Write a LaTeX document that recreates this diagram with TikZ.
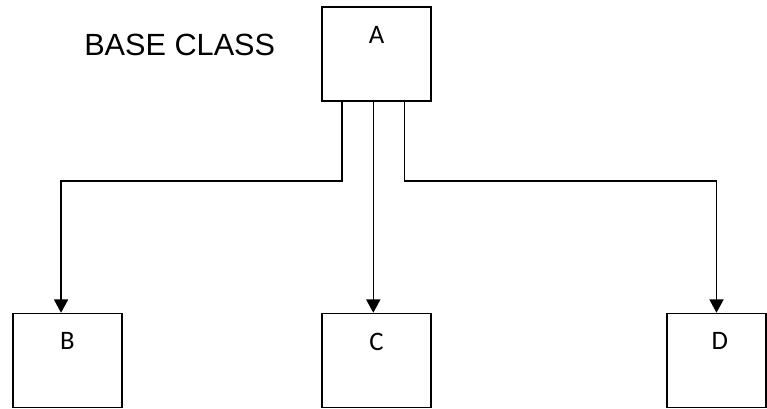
\documentclass[tikz,border=0pt]{standalone}
\usepackage{fontspec}
\setmainfont{Liberation Sans}
\newfontfamily\boxfont{Carlito}
\usetikzlibrary{arrows.meta}
\tikzstyle{classbox}=[draw,line width=1.1pt,minimum width=81.75pt,minimum height=70.5pt,inner sep=0pt]
\tikzstyle{classname}=[font=\boxfont\fontsize{20}{24}\selectfont,below=11.5pt]
\tikzstyle{link}=[line width=1.2pt,-{Triangle[width=10.5pt,length=10pt]}]

\begin{document}
\begin{tikzpicture}[x=0.75pt,y=-0.75pt]
\useasboundingbox (0,0) rectangle (767,408);
\node[anchor=base west,inner sep=0pt,font=\fontsize{23}{27}\selectfont] at (84,55) (base) {BASE CLASS};
\node[classbox,label={[classname]north:A}] at (376.5,54) (a) {};
\node[classbox,label={[classname]north:B}] at (67.3,360.5) (b) {};
\node[classbox,label={[classname]north:C}] at (376.5,360.5) (c) {};
\node[classbox,minimum width=74pt,label={[classname,xshift=2.5pt]north:D}] at (716.5,360.5) (d) {};
\draw[link] ([xshift=-26.1pt]a.south) -- ++(0,79) -| ([xshift=-4.7pt]b.north);
\draw[link] ([xshift=-2.4pt]a.south) -- ([xshift=-2.4pt]c.north);
\draw[link] ([xshift=20.85pt]a.south) -- ++(0,79) -| (d.north);
\end{tikzpicture}
\end{document}
